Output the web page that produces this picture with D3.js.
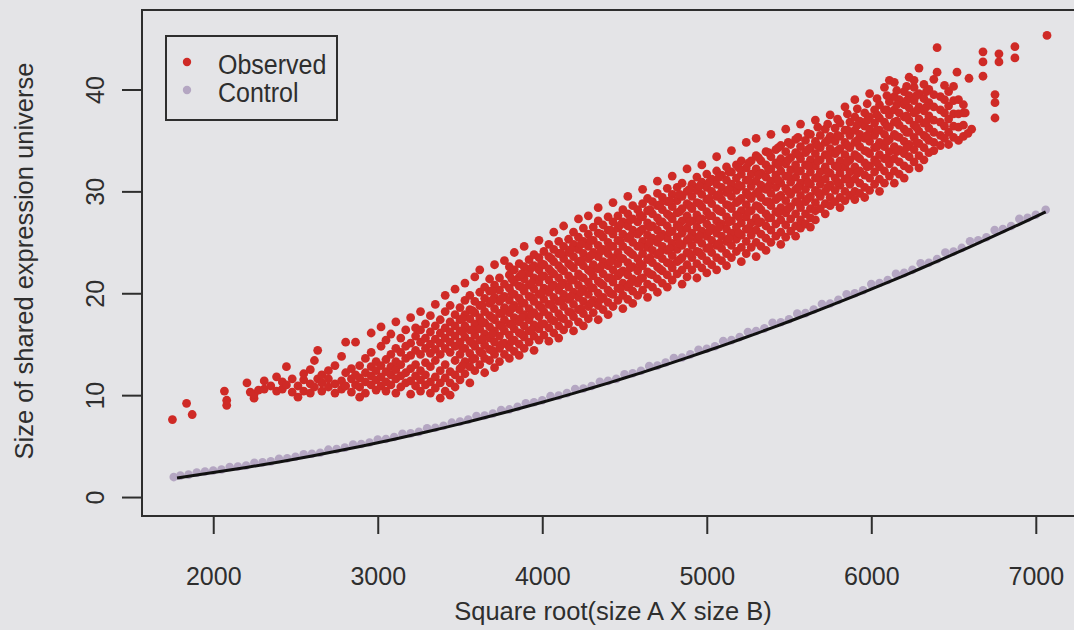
<!DOCTYPE html>
<html><head><meta charset="utf-8">
<script src="https://cdn.jsdelivr.net/npm/d3@7"></script>
<style>html,body{margin:0;padding:0;background:#e4e4e7;}svg{display:block;font-family:"Liberation Sans",Arial,sans-serif;}</style>
</head><body><svg id="chart" width="1074" height="630"></svg>
<script>
// ---- data ----
const xTicks = [2000, 3000, 4000, 5000, 6000, 7000];
const yTicks = [0, 10, 20, 30, 40];
const seriesNames = ["Observed", "Control"];
const seriesColors = ["#cf2a26", "#b4a6c2"];

// Observed: rows of [x, [y values at that x]]
const observedRows = [
[1752,[7.6]],[1838,[9.2]],[1872,[8.1]],[2068,[10.4]],[2082,[9.0,9.5]],[2205,[11.2]],[2225,[10.3]],[2248,[9.7,10.1]],[2275,[10.5]],
[2310,[10.6,11.4]],[2350,[10.9]],[2385,[11.8,10.4]],[2420,[10.6,11.3]],[2445,[12.8,11.0]],[2480,[10.3,11.6]],[2515,[9.8,10.9]],
[2550,[11.5,10.4,12.1]],[2590,[12.5,11.1,10.2]],[2615,[13.4,10.8]],[2635,[14.4,11.6]],[2660,[10.4,11.2,12.0]],[2700,[10.8,11.6,12.4]],
[2740,[10.2,11.1,12.9]],[2780,[13.8,11.4,10.6]],[2805,[15.2,12.2,10.9]],[2840,[11.6,10.3,12.6]],[2865,[15.2,11.0,12.0]],
[2890,[9.8,10.8,11.7,12.9]],[2925,[10.2,11.3,12.2,13.6]],[2960,[16.1,11.0,11.9,12.8,14.2]],[2990,[10.5,11.5,12.4,13.3]],
[3020,[16.7,10.9,11.8,12.9,14.8]],[3050,[10.4,11.3,12.3,13.5,15.4]],[3080,[11.0,12.0,12.8,14.0,16.0]],[3110,[10.2,11.6,12.5,13.3,14.6,17.2]],
[3140,[10.8,11.9,13.0,14.2,15.6]],[3170,[11.2,12.2,13.6,14.8,16.4]],[3200,[10.1,11.4,12.6,13.9,15.1,17.6]],[3230,[10.9,11.9,13.0,14.4,15.8,16.6]],
[3260,[10.4,11.5,12.4,14.0,15.2,16.4,18.2]],[3290,[11.0,12.0,13.2,14.6,15.6,17.0]],[3320,[10.2,11.3,12.8,14.1,15.0,16.2,17.8]],
[3350,[10.7,11.8,13.4,14.5,15.5,16.8,18.9]],[3380,[9.7,11.2,12.4,14.0,15.1,16.1,17.4]],[3410,[10.4,11.7,13.0,14.6,15.6,16.6,18.2,19.8]],
[3440,[10.0,11.2,12.3,14.2,15.2,16.2,17.2,18.8]],[3470,[10.8,12.0,13.4,14.8,15.8,16.8,17.9,20.4]],[3500,[11.5,12.6,14.0,15.2,16.3,17.4,18.6]],
[3530,[12.1,13.3,14.6,15.7,16.8,17.9,19.3,21.0]],[3560,[11.2,12.8,14.1,15.3,16.4,17.5,18.4,19.8]],[3590,[12.4,13.6,14.8,15.9,17.0,18.1,19.2,21.6]],
[3620,[13.0,14.3,15.4,16.5,17.6,18.8,20.1,22.3]],[3650,[12.2,13.6,14.9,16.0,17.1,18.2,19.5,20.6]],[3680,[13.4,14.5,15.6,16.7,17.8,19.0,20.2,21.4]],
[3710,[12.7,14.0,15.2,16.3,17.4,18.5,19.6,20.8,22.8]],[3740,[13.3,14.6,15.8,16.9,18.0,19.2,20.3,21.5]],[3770,[14.0,15.1,16.3,17.4,18.6,19.7,20.9,23.2]],
[3800,[13.6,14.7,15.9,17.0,18.1,19.3,20.5,21.8,22.6]],[3830,[14.3,15.4,16.5,17.6,18.8,19.9,21.1,22.3,24.0]],[3860,[13.9,15.0,16.1,17.2,18.4,19.5,20.7,21.6,22.9]],
[3890,[14.6,15.7,16.8,17.9,19.0,20.2,21.4,22.6,24.6]],[3920,[15.2,16.3,17.4,18.5,19.7,20.8,22.0,23.3]],[3950,[14.4,15.8,16.9,18.1,19.2,20.4,21.5,22.7,23.8]],
[3980,[15.4,16.5,17.7,18.8,19.9,21.1,22.3,23.5,25.2]],[4010,[15.9,17.0,18.2,19.4,20.5,21.7,22.8,24.1]],[4040,[15.3,16.6,17.8,18.9,20.1,21.3,22.4,23.6,24.8]],
[4070,[16.1,17.3,18.5,19.6,20.8,21.9,23.1,24.3,26.0]],[4100,[15.6,16.8,18.0,19.2,20.3,21.5,22.7,23.9,25.1]],[4130,[16.4,17.5,18.7,19.9,21.0,22.2,23.4,24.6,26.6]],
[4160,[17.0,18.2,19.4,20.6,21.7,22.9,24.0,25.3]],[4190,[16.3,17.7,18.9,20.1,21.3,22.5,23.6,24.8,26.0]],[4220,[17.2,18.4,19.6,20.8,21.9,23.1,24.3,25.5,27.3]],
[4250,[16.8,18.0,19.2,20.4,21.5,22.7,23.9,25.1,26.4]],[4280,[17.5,18.7,19.9,21.1,22.3,23.4,24.6,25.8,27.6]],[4310,[18.1,19.3,20.5,21.7,22.8,24.0,25.2,26.5]],
[4340,[17.4,18.8,20.0,21.2,22.4,23.6,24.7,25.9,27.1,28.4]],[4370,[18.4,19.6,20.8,21.9,23.1,24.3,25.5,26.7]],[4400,[17.9,19.1,20.3,21.5,22.7,23.9,25.0,26.2,27.5]],
[4430,[18.7,19.9,21.1,22.3,23.5,24.6,25.8,27.0,28.9]],[4460,[19.3,20.5,21.7,22.9,24.0,25.2,26.4,27.6]],[4490,[18.5,19.8,21.0,22.2,23.4,24.6,25.8,27.0,28.2]],
[4520,[19.4,20.6,21.8,23.0,24.2,25.4,26.6,27.8,29.5]],[4550,[19.0,20.2,21.4,22.6,23.8,25.0,26.2,27.3,28.6]],[4580,[19.8,21.0,22.2,23.4,24.6,25.8,27.0,28.2]],
[4610,[20.3,21.5,22.7,23.9,25.1,26.3,27.5,28.8,30.2]],[4640,[19.6,20.9,22.1,23.3,24.5,25.7,26.9,28.1,29.3]],[4670,[20.6,21.8,23.0,24.2,25.4,26.6,27.8,29.0]],
[4700,[20.1,21.4,22.6,23.8,25.0,26.2,27.4,28.6,29.8,31.0]],[4730,[21.0,22.2,23.4,24.6,25.8,27.0,28.2,29.4]],[4760,[20.6,21.8,23.0,24.2,25.4,26.6,27.8,29.0,30.3]],
[4790,[21.3,22.5,23.7,24.9,26.1,27.3,28.5,29.7,31.5]],[4820,[21.9,23.1,24.3,25.5,26.7,27.9,29.1,30.4]],[4850,[20.9,22.3,23.5,24.7,25.9,27.1,28.3,29.5,30.8]],
[4880,[21.6,22.8,24.0,25.2,26.4,27.6,28.8,30.0,32.2]],[4910,[22.3,23.5,24.7,25.9,27.1,28.3,29.5,30.7]],[4940,[21.5,22.9,24.1,25.3,26.5,27.7,28.9,30.1,31.4]],
[4970,[22.5,23.7,24.9,26.1,27.3,28.5,29.7,30.9,32.6]],[5000,[22.0,23.2,24.4,25.6,26.8,28.0,29.2,30.4,31.7]],[5030,[22.8,24.0,25.2,26.4,27.6,28.8,30.0,31.2]],
[5060,[22.3,23.5,24.7,25.9,27.1,28.3,29.5,30.7,32.0,33.4]],[5090,[23.2,24.4,25.6,26.8,28.0,29.2,30.4,31.6]],[5120,[22.7,23.9,25.1,26.3,27.5,28.7,29.9,31.1,32.4]],
[5150,[23.5,24.7,25.9,27.1,28.3,29.5,30.7,31.9,34.0]],[5180,[24.1,25.3,26.5,27.7,28.9,30.1,31.3,32.6]],[5210,[23.1,24.5,25.7,26.9,28.1,29.3,30.5,31.7,33.0]],
[5240,[23.9,25.1,26.3,27.5,28.7,29.9,31.1,32.3,34.8]],[5270,[24.5,25.7,26.9,28.1,29.3,30.5,31.7,33.0]],[5300,[23.6,25.0,26.2,27.4,28.6,29.8,31.0,32.2,33.5,35.2]],
[5330,[24.6,25.8,27.0,28.2,29.4,30.6,31.8,33.0]],[5360,[24.2,25.4,26.6,27.8,29.0,30.2,31.4,32.6,33.9]],[5390,[25.0,26.2,27.4,28.6,29.8,31.0,32.2,33.4,35.6]],
[5420,[25.6,26.8,28.0,29.2,30.4,31.6,32.8,34.1]],[5450,[24.8,26.0,27.2,28.4,29.6,30.8,32.0,33.2,34.5]],[5480,[25.5,26.7,27.9,29.1,30.3,31.5,32.7,33.9,36.1]],
[5510,[26.1,27.3,28.5,29.7,30.9,32.1,33.3,34.6]],[5540,[25.6,26.6,27.8,29.0,30.2,31.4,32.6,33.8,35.1]],[5570,[26.4,27.2,28.4,29.6,30.8,32.0,33.2,34.4,36.6]],
[5600,[26.8,27.8,29.0,30.2,31.4,32.6,33.8,35.0]],[5630,[26.5,27.4,28.3,29.5,30.7,31.9,33.1,34.3,35.6]],[5660,[27.2,28.1,28.9,30.1,31.3,32.5,33.7,34.9,37.0]],
[5690,[28.3,29.5,30.7,31.9,33.1,34.3,35.5]],[5720,[27.8,28.8,30.0,31.2,32.4,33.6,34.8,36.1]],[5750,[28.6,29.4,30.6,31.8,33.0,34.2,35.4,37.5]],
[5780,[29.0,30.1,31.3,32.5,33.7,34.9,36.2]],[5810,[28.4,29.4,30.6,31.8,33.0,34.2,35.4,36.7]],[5840,[29.1,30.0,31.2,32.4,33.6,34.8,36.0,38.3]],
[5870,[29.6,30.7,31.9,33.1,34.3,35.5,36.8]],[5900,[29.2,30.0,31.2,32.4,33.6,34.8,36.0,37.3,39.0]],[5930,[29.8,30.8,32.0,33.2,34.4,35.6,36.9]],
[5960,[29.4,30.4,31.6,32.8,34.0,35.2,36.4,37.7]],[5990,[30.1,31.3,32.5,33.7,34.9,36.1,37.3,39.6]],[6020,[30.7,31.9,33.1,34.3,35.5,36.7,38.0]],
[6050,[30.0,31.2,32.4,33.6,34.8,36.0,37.2,38.5]],[6080,[30.8,32.0,33.2,34.4,35.6,36.8,38.0,40.2]],[6110,[31.5,32.7,33.9,35.1,36.3,37.5,38.8,40.9]],
[6140,[30.8,32.0,33.2,34.4,35.6,36.8,38.0,39.3,40.7]],[6170,[31.7,32.9,34.1,35.3,36.5,37.7,39.0]],[6200,[31.3,32.5,33.7,34.9,36.1,37.3,38.5,39.8]],
[6230,[32.2,33.4,34.6,35.8,37.0,38.2,39.4,41.2]],[6260,[32.9,34.1,35.3,36.5,37.7,38.9,40.2,40.9]],[6290,[32.3,33.5,34.7,35.9,37.1,38.3,39.6,42.1]],
[6320,[33.1,34.3,35.5,36.7,37.9,39.1,40.5]],[6350,[33.8,35.0,36.2,37.4,38.7,40.0]],[6380,[34.0,34.8,35.8,37.0,38.3,39.5,41.0]],
[6400,[41.7,44.1]],[6420,[34.5,35.5,36.8,38.0,39.3]],[6445,[35.2,36.4,37.7,39.0,40.4]],[6470,[34.6,35.8,37.1,38.4,39.8]],
[6500,[35.3,36.4,37.6,38.9,40.3]],[6521,[41.7]],[6530,[35.0,36.3,37.6,39.0]],[6560,[35.4,36.5,37.7,38.5]],[6571,[37.7]],
[6588,[35.7]],[6594,[41.1]],[6610,[36.1]],[6679,[41.3,42.7,43.7]],[6752,[37.2,38.7,39.5]],[6776,[42.7,43.5]],[6873,[43.1,44.2]],[7068,[45.3]]
];
// Observed: further reads inside the dense core
const observedCoreRows = [
[3515,[12.9,14.6,16.2,17.5]],[3575,[13.5,15.1,16.4,18.3]],[3635,[14.1,15.5,17.2,18.8]],[3695,[14.4,16.0,17.6,19.3,20.2]],
[3755,[15.0,16.7,18.1,19.5]],[3815,[15.3,16.9,18.5,20.0,21.4]],[3875,[16.0,17.6,19.1,20.6,21.9]],[3935,[16.4,17.9,19.6,21.0,22.5]],
[3995,[17.0,18.6,20.0,21.6,22.9]],[4055,[17.4,18.9,20.6,22.1,23.4]],[4115,[17.6,19.3,20.8,22.4,23.9]],[4175,[18.1,19.7,21.3,22.7,24.3]],
[4235,[18.5,20.1,21.6,23.2,24.8]],[4295,[19.0,20.6,22.1,23.7,25.2]],[4355,[19.4,21.0,22.6,24.1,25.8]],[4415,[20.0,21.5,23.1,24.6,26.2]],
[4475,[20.4,22.0,23.5,25.1,26.7]],[4535,[21.0,22.5,24.0,25.6,27.2]],[4595,[21.4,22.9,24.6,26.1,27.7]],[4655,[21.9,23.5,25.0,26.5,28.2]],
[4715,[22.4,24.0,25.5,27.0,28.7]],[4775,[22.9,24.4,26.0,27.6,29.1]],[4835,[23.3,24.9,26.5,28.0,29.7]],[4895,[23.9,25.4,27.0,28.6,30.2]],
[4955,[24.0,25.6,27.2,28.8,30.5]],[5015,[24.5,26.1,27.6,29.3,30.9]],[5075,[24.9,26.5,28.1,29.7,31.4]],[5135,[25.4,27.0,28.6,30.2,31.9]],
[5195,[25.9,27.5,29.1,30.6,32.3]],[5255,[26.4,28.0,29.6,31.1,32.8]],[5315,[26.9,28.5,30.0,31.6,33.3]],[5375,[27.4,29.0,30.5,32.1,33.8]],
[5435,[27.9,29.4,31.1,32.6,34.3]],[5495,[28.3,30.0,31.5,33.1,34.8]],[5555,[28.9,30.4,32.0,33.6,35.3]],[5615,[29.3,30.9,32.5,34.1,35.7]],
[5675,[29.9,31.4,33.0,34.5,36.3]],[5735,[30.4,31.9,33.5,35.0,36.6]],[5795,[30.9,32.4,34.0,35.5,37.1]],[5855,[31.3,32.9,34.5,36.0,37.6]],
[5915,[31.8,33.4,35.0,36.5,38.1]],[5975,[32.4,33.9,35.5,37.0,38.6]],[6035,[32.8,34.4,36.0,37.5,39.1]],[6095,[33.3,34.9,36.4,38.0,39.4]],
[6155,[33.9,35.4,36.9,38.5,39.9]],[6215,[34.3,35.8,37.4,38.9,40.3]],[6275,[34.8,36.3,37.9,39.4]],[6335,[35.3,36.8,38.3,39.8]]
];

// Control points
const controlX = [1760,1800,1850,1900,1950,2000,2050,2100,2150,2200,2250,2300,2350,2400,2450,2500,2550,2600,2650,2700,2750,2800,2850,2900,2950,
3000,3050,3100,3150,3200,3250,3300,3350,3400,3450,3500,3550,3600,3650,3700,3750,3800,3850,3900,3950,4000,4050,4100,4150,4200,4250,4300,4350,
4400,4450,4500,4550,4600,4650,4700,4750,4800,4850,4900,4950,5000,5050,5100,5150,5200,5250,5300,5350,5400,5450,5500,5550,5600,5650,5700,5750,
5800,5850,5900,5950,6000,6050,6100,6150,6200,6250,6300,6350,6400,6450,6500,6550,6600,6650,6700,6750,6800,6850,6900,6950,7000,7060];
const controlY = [1.96,2.1,2.2,2.4,2.5,2.6,2.7,2.95,3.0,3.1,3.35,3.4,3.5,3.75,3.8,3.95,4.2,4.25,4.35,4.65,4.7,4.85,5.15,5.2,5.35,
5.65,5.7,5.9,6.2,6.25,6.4,6.75,6.8,7.0,7.3,7.4,7.6,7.95,8.0,8.2,8.55,8.6,8.85,9.2,9.3,9.5,9.9,9.95,10.2,10.6,10.65,10.9,11.3,
11.4,11.6,12.05,12.15,12.4,12.85,12.9,13.2,13.65,13.7,14.0,14.45,14.55,14.8,15.3,15.4,15.7,16.2,16.3,16.55,17.1,17.15,17.45,18.0,18.05,18.4,18.95,19.0,
19.35,19.9,20.0,20.3,20.9,21.0,21.3,21.9,22.0,22.3,22.95,23.0,23.35,24.0,24.1,24.45,25.1,25.2,25.5,26.2,26.3,26.6,27.3,27.4,27.7,28.2];

// Fitted curve through control
const fitX = [1780,1900,2000,2100,2200,2300,2400,2500,2600,2700,2800,2900,3000,3100,3200,3300,3400,3500,3600,3700,3800,3900,4000,
4100,4200,4300,4400,4500,4600,4700,4800,4900,5000,5100,5200,5300,5400,5500,5600,5700,5800,5900,6000,6100,6200,6300,6400,6500,6600,6700,6800,6900,7000,7060];
const fitY = [1.88,2.17,2.40,2.65,2.90,3.17,3.44,3.73,4.03,4.34,4.66,4.99,5.33,5.68,6.04,6.41,6.79,7.18,7.58,8.00,8.42,8.86,9.30,
9.76,10.22,10.70,11.18,11.68,12.19,12.71,13.24,13.78,14.33,14.89,15.46,16.04,16.63,17.23,17.84,18.47,19.10,19.75,20.40,21.07,21.74,22.43,23.12,23.83,24.55,25.28,26.02,26.77,27.53,27.98];

// ---- drawing ----
const W = 1074, H = 630;
const svg = d3.select("#chart");
const ink = "#2e2e2e";
svg.append("rect").attr("width", W).attr("height", H).attr("fill", "#e4e4e7");

const x = d3.scaleLinear().domain([1567, 7293]).range([142, 1084]);
const y = d3.scaleLinear().domain([-1.86, 47.8]).range([516, 10]);

const observed = observedRows.concat(observedCoreRows).flatMap(([xv, ys]) => ys.map(v => [xv, v]));
const control = controlX.map((xv, i) => [xv, controlY[i]]);

const plot = svg.append("g");
plot.selectAll("circle.obs").data(observed).join("circle").attr("class", "obs")
  .attr("cx", d => x(d[0])).attr("cy", d => y(d[1])).attr("r", 4.4).attr("fill", seriesColors[0]);
plot.selectAll("circle.ctl").data(control).join("circle").attr("class", "ctl")
  .attr("cx", d => x(d[0])).attr("cy", d => y(d[1])).attr("r", 4.3).attr("fill", seriesColors[1]);
plot.append("path").datum(fitX.map((xv, i) => [xv, fitY[i]]))
  .attr("d", d3.line().x(d => x(d[0])).y(d => y(d[1])))
  .attr("fill", "none").attr("stroke", "#111").attr("stroke-width", 3);

// box
svg.append("rect").attr("x", 142).attr("y", 10).attr("width", 942).attr("height", 506)
  .attr("fill", "none").attr("stroke", ink).attr("stroke-width", 2);

// x axis
const gx = svg.append("g").attr("transform", "translate(0,516)")
  .call(d3.axisBottom(x).tickValues(xTicks).tickSize(18).tickPadding(33).tickFormat(d3.format("d")));
gx.select(".domain").remove();
gx.selectAll(".tick line").attr("stroke", ink).attr("stroke-width", 2);
gx.selectAll(".tick text").attr("fill", ink).attr("font-size", 25).attr("font-family", "'Liberation Sans', Arial, sans-serif");

// y axis
const gy = svg.append("g").attr("transform", "translate(142,0)")
  .call(d3.axisLeft(y).tickValues(yTicks).tickSize(20).tickFormat(d3.format("d")));
gy.select(".domain").remove();
gy.selectAll(".tick line").attr("stroke", ink).attr("stroke-width", 2);
gy.selectAll(".tick text").attr("fill", ink).attr("font-size", 25).attr("font-family", "'Liberation Sans', Arial, sans-serif")
  .attr("x", null).attr("dy", null).attr("text-anchor", "middle")
  .attr("transform", "translate(-38,0) rotate(-90)");

// axis titles
svg.append("text").attr("x", 613).attr("y", 620).attr("text-anchor", "middle")
  .attr("font-size", 25.5).attr("fill", ink).text("Square root(size A X size B)");
svg.append("text").attr("transform", "translate(32.5,261) rotate(-90)").attr("text-anchor", "middle")
  .attr("font-size", 25.5).attr("fill", ink).text("Size of shared expression universe");

// legend
const lg = svg.append("g");
lg.append("rect").attr("x", 166).attr("y", 36).attr("width", 171).attr("height", 84)
  .attr("fill", "none").attr("stroke", ink).attr("stroke-width", 2);
seriesNames.forEach((name, i) => {
  const cy = 62 + i * 28;
  lg.append("circle").attr("cx", 187).attr("cy", cy).attr("r", 4.2).attr("fill", seriesColors[i]);
  lg.append("text").attr("x", 218).attr("y", cy + 12).attr("font-size", 25).attr("fill", ink)
    .attr("transform", `translate(0,${-(cy + 12) * 0.08}) scale(1,1.08)`).text(name);
});
</script>
</body></html>
